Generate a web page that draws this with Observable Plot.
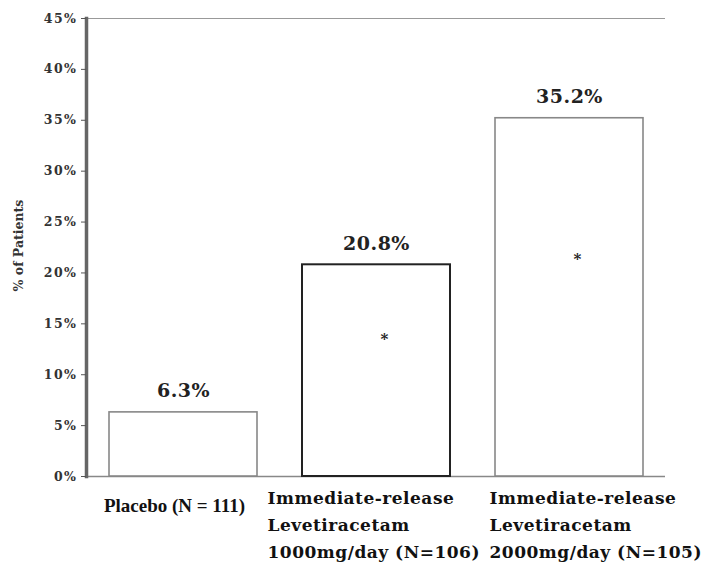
<!DOCTYPE html>
<html>
<head>
<meta charset="utf-8">
<script src="https://cdn.jsdelivr.net/npm/d3@7"></script>
<script src="https://cdn.jsdelivr.net/npm/@observablehq/plot@0.6"></script>
<style>
  html, body { margin: 0; padding: 0; background: #fff; }
  #chart svg { display: block; }
  .xlab text { letter-spacing: 0.5px; }
  .ytick text { letter-spacing: 1.5px; }
  .vlab text { letter-spacing: 0.5px; }
</style>
</head>
<body>
<div id="chart"></div>
<script>
const categories = [
  "Placebo (N = 111)",
  "Immediate-release\nLevetiracetam\n1000mg/day (N=106)",
  "Immediate-release\nLevetiracetam\n2000mg/day (N=105)"
];
const values = [6.3, 20.8, 35.2];
const valueLabels = ["6.3%", "20.8%", "35.2%"];
const starValues = [null, 13.5, 21.4];
const yTicks = [0, 5, 10, 15, 20, 25, 30, 35, 40, 45];
const yLabel = "% of Patients";

const data = categories.map((c, i) => ({cat: c, value: values[i], label: valueLabels[i], star: starValues[i]}));
const stars = data.filter(d => d.star != null);

const serif = "'DejaVu Serif', serif";
const times = "'Liberation Serif', serif";

const chart = Plot.plot({
  width: 706,
  height: 565,
  marginLeft: 86,
  marginRight: 41,
  marginTop: 18,
  marginBottom: 89,
  style: {background: "#fff"},
  x: {domain: categories, paddingInner: 0.235, paddingOuter: 0.115, axis: null},
  y: {domain: [0, 45], axis: null},
  marks: [
    Plot.ruleY([45], {stroke: "#999", strokeWidth: 1.2}),
    Plot.ruleY([0], {stroke: "#888", strokeWidth: 1.5}),
    Plot.barY(data.filter((d, i) => i !== 1), {x: "cat", y: "value", fill: "#fff", stroke: "#888", strokeWidth: 1.6}),
    Plot.barY(data.filter((d, i) => i === 1), {x: "cat", y: "value", fill: "#fff", stroke: "#222", strokeWidth: 2}),
    Plot.frame({anchor: "left", stroke: "#666", strokeWidth: 3.5}),
    Plot.axisY({
      className: "ytick",
      ticks: yTicks, tickFormat: d => d + "%", tickSize: 5, tickPadding: 4,
      stroke: "#555", fill: "#333", fontFamily: serif, fontWeight: "bold", fontSize: 12.5
    }),
    Plot.text([yLabel], {frameAnchor: "left", textAnchor: "middle", rotate: -90, dx: -68, dy: -2, fontFamily: serif, fontWeight: "bold", fontSize: 12.5, fill: "#333"}),
    Plot.text(data, {className: "vlab", x: "cat", y: "value", text: "label", dy: -21, lineAnchor: "middle", fontFamily: serif, fontWeight: "bold", fontSize: 19, fill: "#222"}),
    Plot.text(stars, {x: "cat", y: "star", text: () => "*", dx: 8, lineAnchor: "middle", fontFamily: serif, fontWeight: "bold", fontSize: 15, fill: "#222"}),
    Plot.text(data.filter((d, i) => i === 0), {x: "cat", y: 0, text: "cat", dx: -9, dy: 29, lineAnchor: "middle", fontFamily: times, fontWeight: "bold", fontSize: 19, fill: "#111"}),
    Plot.text(data.filter((d, i) => i === 1), {className: "xlab", x: "cat", y: 0, text: "cat", dx: -109, dy: 8, textAnchor: "start", lineAnchor: "top", lineHeight: 1.6, fontFamily: serif, fontWeight: "bold", fontSize: 17, fill: "#111"}),
    Plot.text(data.filter((d, i) => i === 2), {className: "xlab", x: "cat", y: 0, text: "cat", dx: -80, dy: 8, textAnchor: "start", lineAnchor: "top", lineHeight: 1.6, fontFamily: serif, fontWeight: "bold", fontSize: 17, fill: "#111"})
  ]
});
document.getElementById("chart").appendChild(chart);
</script>
</body>
</html>
